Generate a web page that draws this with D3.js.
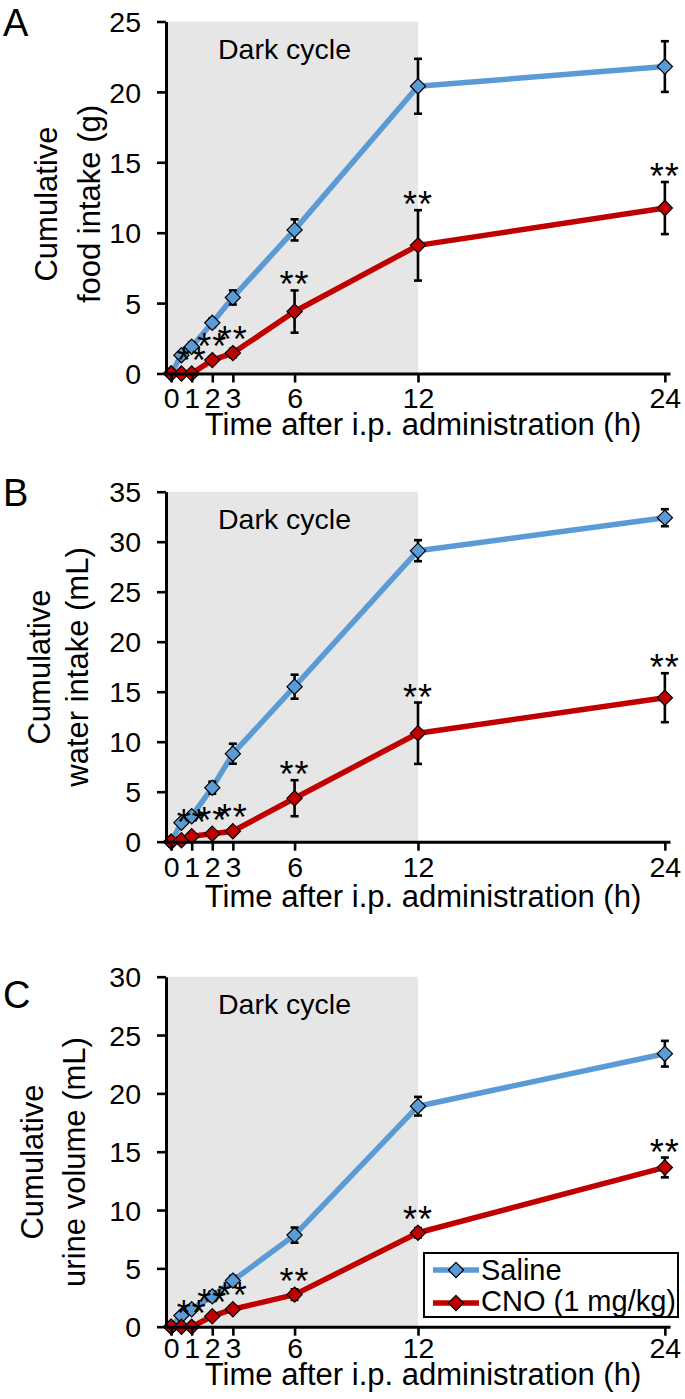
<!DOCTYPE html>
<html>
<head>
<meta charset="utf-8">
<script src="https://cdn.jsdelivr.net/npm/d3@7"></script>
<style>
  html, body { margin: 0; padding: 0; background: #fff; }
  svg { display: block; }
  text { font-family: "Liberation Sans", Arial, sans-serif; fill: #000; }
</style>
</head>
<body>
<svg id="chart" width="685" height="1399"></svg>
<script>
// ---------------- data ----------------
const times = [0, 0.5, 1, 2, 3, 6, 12, 24];
const xTickValues = [0, 1, 2, 3, 6, 12, 24];
const seriesNames = ["Saline", "CNO (1 mg/kg)"];

const foodSaline    = [0, 1.3, 1.9, 3.6, 5.4, 10.2, 20.4, 21.8];
const foodSalineErr = [0, 0.2, 0.3, 0.3, 0.5, 0.75, 1.95, 1.8];
const foodCNO       = [0, 0, 0, 0.95, 1.45, 4.4, 9.1, 11.75];
const foodCNOErr    = [0, 0, 0, 0.2, 0.3, 1.5, 2.5, 1.85];

const waterSaline    = [0, 1.9, 2.55, 5.4, 8.8, 15.5, 29.1, 32.4];
const waterSalineErr = [0, 0.3, 0.4, 0.6, 1.0, 1.2, 1.05, 0.85];
const waterCNO       = [0, 0.15, 0.55, 0.8, 1.05, 4.35, 10.85, 14.4];
const waterCNOErr    = [0, 0.1, 0.3, 0.3, 0.3, 1.8, 3.07, 2.45];

const urineSaline    = [0, 0.95, 1.5, 2.6, 3.95, 7.85, 18.9, 23.4];
const urineSalineErr = [0, 0.2, 0.3, 0.4, 0.4, 0.65, 0.8, 1.1];
const urineCNO       = [0, 0, 0, 0.9, 1.5, 2.75, 8.05, 13.65];
const urineCNOErr    = [0, 0, 0.1, 0.2, 0.3, 0.45, 0.4, 0.85];

// significance marks (** vs saline) for CNO at each time point
const sigCNO = [false, false, true, true, true, true, true, true];

const foodTicks  = [0, 5, 10, 15, 20, 25];
const waterTicks = [0, 5, 10, 15, 20, 25, 30, 35];
const urineTicks = [0, 5, 10, 15, 20, 25, 30];

const foodTitle  = ["Cumulative", "food intake (g)"];
const waterTitle = ["Cumulative", "water intake (mL)"];
const urineTitle = ["Cumulative", "urine volume (mL)"];
const xTitle = "Time after i.p. administration (h)";
const darkLabel = "Dark cycle";
const darkEnd = 12;

// ---------------- layout ----------------
const BLUE = "#5B9BD5", RED = "#C00000", GRAY = "#E7E6E6";
const xLeft = 166, xRight = 670;

const panels = [
  { letter: "A", letterY: 36, top: 21.5, bottom: 373.5, ticks: foodTicks, title: foodTitle,
    t1x: 57, t2x: 100, tyc: 204, tickY: 408, titleY: 435,
    s: foodSaline, se: foodSalineErr, c: foodCNO, ce: foodCNOErr, legend: false },
  { letter: "B", letterY: 506, top: 491.7, bottom: 841.7, ticks: waterTicks, title: waterTitle,
    t1x: 50, t2x: 88, tyc: 667, tickY: 877, titleY: 907,
    s: waterSaline, se: waterSalineErr, c: waterCNO, ce: waterCNOErr, legend: false },
  { letter: "C", letterY: 1008, top: 976.7, bottom: 1326.7, ticks: urineTicks, title: urineTitle,
    t1x: 43, t2x: 85, tyc: 1162, tickY: 1358, titleY: 1385,
    s: urineSaline, se: urineSalineErr, c: urineCNO, ce: urineCNOErr, legend: true }
];

const svg = d3.select("#chart");
const x = d3.scaleLinear().domain([-0.25, 24.25]).range([xLeft, xRight]);

const diamond = {
  draw(ctx, size) {
    const r = Math.sqrt(size / 2);
    ctx.moveTo(0, -r); ctx.lineTo(r, 0); ctx.lineTo(0, r); ctx.lineTo(-r, 0); ctx.closePath();
  }
};
const markerPath = d3.symbol().type(diamond).size(2 * 7.6 * 7.6);

panels.forEach(p => {
  const g = svg.append("g");
  const y = d3.scaleLinear().domain([0, d3.max(p.ticks)]).range([p.bottom, p.top]);

  // dark cycle shading
  g.append("rect")
    .attr("x", x(-0.25)).attr("y", p.top)
    .attr("width", x(darkEnd) - x(-0.25)).attr("height", p.bottom - p.top)
    .attr("fill", GRAY);
  g.append("text").attr("x", 218).attr("y", p.top + 37)
    .attr("font-size", 28.5).text(darkLabel);

  // panel letter
  g.append("text").attr("x", 3).attr("y", p.letterY)
    .attr("font-size", 38).text(p.letter);

  // series
  const series = [
    { v: p.s, e: p.se, color: BLUE },
    { v: p.c, e: p.ce, color: RED }
  ];
  const line = d3.line().x((d, i) => x(times[i])).y(d => y(d));

  series.forEach(sr => {
    g.append("path").datum(sr.v).attr("d", line)
      .attr("fill", "none").attr("stroke", sr.color)
      .attr("stroke-width", 5.5).attr("stroke-linejoin", "round");
  });

  series.forEach(sr => {
    const eb = g.append("g").attr("stroke", "#000").attr("stroke-width", 2.6);
    sr.v.forEach((v, i) => {
      const e = sr.e[i];
      if (!e) return;
      const cx = x(times[i]);
      eb.append("line").attr("x1", cx).attr("x2", cx).attr("y1", y(v - e)).attr("y2", y(v + e));
      eb.append("line").attr("x1", cx - 4).attr("x2", cx + 4).attr("y1", y(v - e)).attr("y2", y(v - e));
      eb.append("line").attr("x1", cx - 4).attr("x2", cx + 4).attr("y1", y(v + e)).attr("y2", y(v + e));
    });
    g.append("g").selectAll("path").data(sr.v).join("path")
      .attr("d", markerPath)
      .attr("transform", (d, i) => `translate(${x(times[i])},${y(d)})`)
      .attr("fill", sr.color).attr("stroke", "#000").attr("stroke-width", 1.2);
  });

  // significance stars
  p.c.forEach((v, i) => {
    if (!sigCNO[i]) return;
    const top = Math.min(y(v + p.ce[i]), y(v) - 8);
    g.append("text").attr("x", x(times[i])).attr("y", top - 14 + 21)
      .attr("text-anchor", "middle").attr("font-size", 36).attr("letter-spacing", 1)
      .text("**");
  });

  // axes
  const yAxis = d3.axisLeft(y).tickValues(p.ticks).tickSize(9).tickSizeOuter(0).tickPadding(16)
    .tickFormat(d3.format("d"));
  const ya = g.append("g").attr("transform", `translate(${xLeft},0)`).call(yAxis);
  const xAxis = d3.axisBottom(x).tickValues(xTickValues).tickSize(9).tickSizeOuter(0)
    .tickFormat(d3.format("d"));
  const xa = g.append("g").attr("transform", `translate(0,${p.bottom})`).call(xAxis);
  [ya, xa].forEach(a => {
    a.select(".domain").attr("stroke", "#000").attr("stroke-width", 3);
    a.selectAll(".tick line").attr("stroke", "#000").attr("stroke-width", 2.6);
    a.selectAll(".tick text").attr("font-size", 28.5).attr("fill", "#000")
      .attr("font-family", "'Liberation Sans', Arial, sans-serif");
  });
  ya.selectAll(".tick text").attr("dy", "0.36em");
  xa.selectAll(".tick text").attr("dy", null).attr("y", p.tickY - p.bottom);

  // axis titles
  g.append("text").attr("x", (x(-0.25) + x(24.25)) / 2 + 5).attr("y", p.titleY)
    .attr("text-anchor", "middle").attr("font-size", 31).text(xTitle);
  p.title.forEach((t, k) => {
    g.append("text")
      .attr("transform", `translate(${k === 0 ? p.t1x : p.t2x},${p.tyc}) rotate(-90)`)
      .attr("text-anchor", "middle").attr("font-size", 31).text(t);
  });

  // legend
  if (p.legend) {
    const lg = g.append("g");
    lg.append("rect").attr("x", 424).attr("y", 1253).attr("width", 254).attr("height", 64)
      .attr("fill", "#fff").attr("stroke", "#000").attr("stroke-width", 2);
    [BLUE, RED].forEach((col, k) => {
      const ly = k === 0 ? 1270 : 1303;
      lg.append("line").attr("x1", 433).attr("x2", 479).attr("y1", ly).attr("y2", ly)
        .attr("stroke", col).attr("stroke-width", 5.5);
      lg.append("path").attr("d", markerPath).attr("transform", `translate(456,${ly})`)
        .attr("fill", col).attr("stroke", "#000").attr("stroke-width", 1.2);
      lg.append("text").attr("x", 481).attr("y", k === 0 ? 1280 : 1311)
        .attr("font-size", 29).text(seriesNames[k]);
    });
  }
});
</script>
</body>
</html>
